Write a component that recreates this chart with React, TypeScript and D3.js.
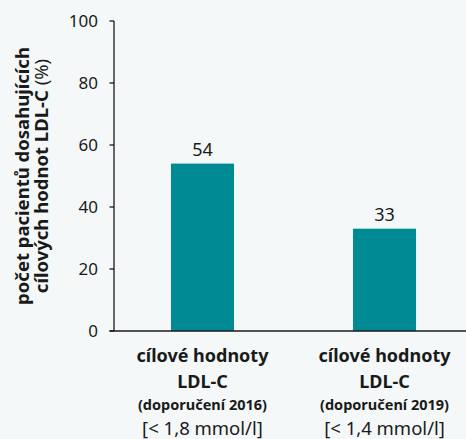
import * as d3 from "d3";
import React from "react";

const categories = ["2016", "2019"];
const values = [54, 33];
const line1 = ["cílové hodnoty", "cílové hodnoty"];
const line2 = ["LDL-C", "LDL-C"];
const line3 = ["(doporučení 2016)", "(doporučení 2019)"];
const line4 = ["[< 1,8 mmol/l]", "[< 1,4 mmol/l]"];
const yTicks = [0, 20, 40, 60, 80, 100];

const W = 466;
const H = 439;
const FONT = "'Noto Sans', sans-serif";
const TEXT = "#1a1a1a";
const BAR = "#008a94";
const BG = "#f4f8f8";
const AX = 114;

export default function App() {
  const x = d3
    .scaleBand<string>()
    .domain(categories)
    .range([AX, 473])
    .paddingInner(0.654)
    .paddingOuter(0.313);

  const y = d3.scaleLinear().domain([0, 100]).range([331, 21]);

  return (
    <svg
      width={W}
      height={H}
      style={{ position: "absolute", left: 0, top: 0, background: BG }}
      fontFamily={FONT}
    >
      <rect width={W} height={H} fill={BG} />

      {/* bars */}
      {categories.map((c, i) => (
        <g key={c}>
          <rect
            x={x(c)}
            y={y(values[i])}
            width={x.bandwidth()}
            height={y(0) - y(values[i])}
            fill={BAR}
          />
          <text
            x={(x(c) ?? 0) + x.bandwidth() / 2}
            y={y(values[i]) - 8}
            textAnchor="middle"
            fontSize={18}
            fill={TEXT}
          >
            {values[i]}
          </text>
        </g>
      ))}

      {/* y axis */}
      <line x1={AX} x2={AX} y1={y(100)} y2={y(0)} stroke={TEXT} strokeWidth={1.3} />
      {yTicks.map((t) => (
        <g key={t} transform={`translate(0,${y(t)})`}>
          <line x1={AX - 4.5} x2={AX} stroke={TEXT} strokeWidth={1.3} />
          <text x={98} dy="0.35em" textAnchor="end" fontSize={17} fill={TEXT}>
            {t}
          </text>
        </g>
      ))}

      {/* x axis */}
      <line x1={AX - 4.5} x2={W} y1={y(0)} y2={y(0)} stroke={TEXT} strokeWidth={1.3} />

      {categories.map((c, i) => {
        const cx = (x(c) ?? 0) + x.bandwidth() / 2;
        return (
          <g key={c} textAnchor="middle" fill={TEXT}>
            <text x={cx} y={362} fontSize={18} fontWeight="bold">
              {line1[i]}
            </text>
            <text x={cx} y={388} fontSize={18} fontWeight="bold">
              {line2[i]}
            </text>
            <text x={cx} y={410} fontSize={14.5} fontWeight="bold">
              {line3[i]}
            </text>
            <text x={cx} y={435} fontSize={18.5}>
              {line4[i]}
            </text>
          </g>
        );
      })}

      {/* y title */}
      <g transform="translate(0,176) rotate(-90)" textAnchor="middle" fill={TEXT}>
        <text x={0} y={29} fontSize={18.5} fontWeight="bold">
          počet pacientů dosahujících
        </text>
        <text x={0} y={48} fontSize={18.5}>
          <tspan fontWeight="bold">cílových hodnot LDL-C</tspan> (%)
        </text>
      </g>
    </svg>
  );
}
